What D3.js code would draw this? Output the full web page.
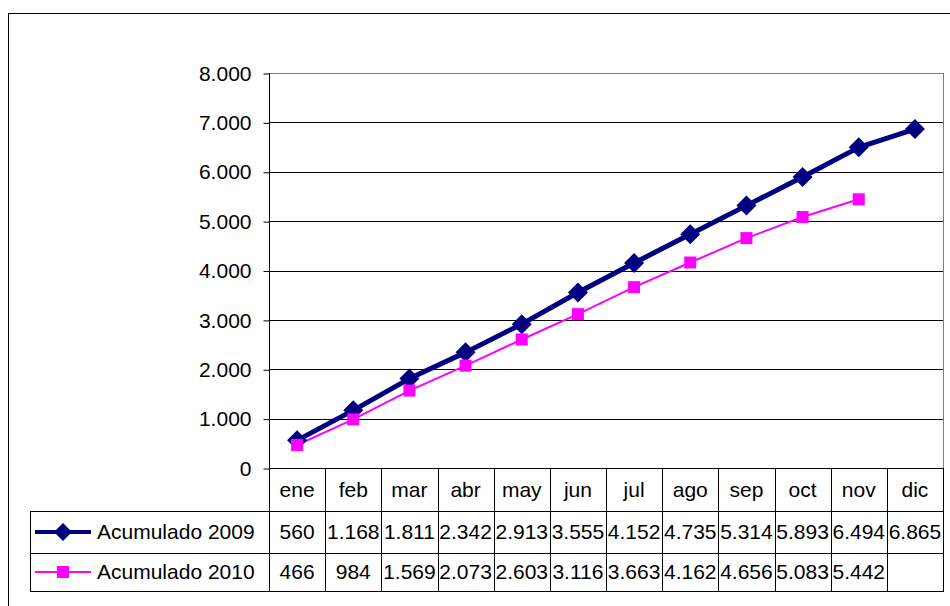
<!DOCTYPE html>
<html><head><meta charset="utf-8">
<script src="https://cdn.jsdelivr.net/npm/d3@7"></script>
<style>body{margin:0;background:#fff}svg{display:block}text{font-family:"Liberation Sans",Arial,sans-serif;fill:#000}</style>
</head><body>
<svg id="c" width="950" height="606"></svg>
<script>
const months = ["ene","feb","mar","abr","may","jun","jul","ago","sep","oct","nov","dic"];
const acum2009 = [560,1168,1811,2342,2913,3555,4152,4735,5314,5893,6494,6865];
const acum2010 = [466,984,1569,2073,2603,3116,3663,4162,4656,5083,5442,null];
const seriesNames = ["Acumulado 2009","Acumulado 2010"];
const yTicks = [0,1000,2000,3000,4000,5000,6000,7000,8000];

const svg = d3.select("#c");
const L = 269, R = 943, T = 73, B = 468;
const rowH = [43, 42, 38];
const tableLeft = 30;
const FS = 21;
const fmt = v => v == null ? "" : d3.format(",")(v).replace(/,/g, ".");

// outer frame
svg.append("rect").attr("x",8.5).attr("y",13.5).attr("width",960).attr("height",620)
  .attr("fill","none").attr("stroke","#000").attr("stroke-width",1);

const x = d3.scaleBand().domain(months).range([L,R]);
const y = d3.scaleLinear().domain([0,8000]).range([B,T]);

// gridlines
svg.append("g").selectAll("line").data(yTicks.filter(d=>d>0&&d<8000)).join("line")
  .attr("x1",L).attr("x2",R).attr("y1",d=>Math.round(y(d))+0.5).attr("y2",d=>Math.round(y(d))+0.5)
  .attr("stroke","#000").attr("stroke-width",1);
// plot border top/right gray
svg.append("line").attr("x1",L).attr("x2",R).attr("y1",T+0.5).attr("y2",T+0.5).attr("stroke","#808080");
svg.append("line").attr("x1",R+0.5).attr("x2",R+0.5).attr("y1",T).attr("y2",B).attr("stroke","#808080");

// y axis
const yAxis = d3.axisLeft(y).tickValues(yTicks).tickSize(6).tickPadding(12).tickFormat(fmt);
const ya = svg.append("g").attr("transform",`translate(${L+0.5},0.5)`).call(yAxis);
ya.select(".domain").remove();
ya.selectAll(".tick line").attr("stroke","#000");
ya.selectAll(".tick text").attr("font-size",FS).attr("font-family","Liberation Sans, Arial, sans-serif").attr("fill","#000");
svg.append("line").attr("x1",L+0.5).attr("x2",L+0.5).attr("y1",T).attr("y2",B).attr("stroke","#000");
svg.append("line").attr("x1",L).attr("x2",R).attr("y1",B+0.5).attr("y2",B+0.5).attr("stroke","#000");

// table
const r1 = B + rowH[0], r2 = r1 + rowH[1], r3 = r2 + rowH[2];
const tg = svg.append("g").attr("stroke","#000").attr("stroke-width",1);
months.forEach((m,i)=>{
  const xx = Math.round(x(m))+0.5;
  tg.append("line").attr("x1",xx).attr("x2",xx).attr("y1",B).attr("y2",r3);
});
tg.append("line").attr("x1",R+0.5).attr("x2",R+0.5).attr("y1",B).attr("y2",r3);
tg.append("line").attr("x1",tableLeft+0.5).attr("x2",tableLeft+0.5).attr("y1",r1).attr("y2",r3);
[r1,r2,r3].forEach(yy=>tg.append("line").attr("x1",tableLeft).attr("x2",R+1).attr("y1",yy+0.5).attr("y2",yy+0.5));

// header labels
svg.append("g").selectAll("text").data(months).join("text")
  .attr("x",d=>x(d)+x.bandwidth()/2).attr("y",B+rowH[0]/2+7).attr("text-anchor","middle")
  .attr("font-size",FS).text(d=>d);

const seriesData = [acum2009, acum2010];
const rowMid = [r1 + rowH[1]/2, r2 + rowH[2]/2];
seriesData.forEach((arr,si)=>{
  svg.append("g").selectAll("text").data(arr).join("text")
    .attr("x",(d,i)=>x(months[i])+x.bandwidth()/2).attr("y",rowMid[si]+7).attr("text-anchor","middle")
    .attr("font-size",FS).text(d=>fmt(d));
});

// legend keys
const colors = ["#000080","#FF00FF"];
const widths = [4,2];
seriesNames.forEach((n,si)=>{
  const cy = rowMid[si];
  svg.append("line").attr("x1",35).attr("x2",91).attr("y1",cy).attr("y2",cy).attr("stroke",colors[si]).attr("stroke-width",widths[si]);
  if(si===0){
    const d=9;
    svg.append("path").attr("d",`M63,${cy-d}L${63+d},${cy}L63,${cy+d}L${63-d},${cy}Z`).attr("fill",colors[0]);
  } else {
    svg.append("rect").attr("x",63-6).attr("y",cy-6).attr("width",12).attr("height",12).attr("fill",colors[1]);
  }
  svg.append("text").attr("x",97).attr("y",cy+7).attr("font-size",FS).text(n);
});

// lines
const cx = i => x(months[i]) + x.bandwidth()/2;
const line = d3.line().defined(d=>d!=null).x((d,i)=>cx(i)).y(d=>y(d));
svg.append("path").datum(acum2009).attr("d",line).attr("fill","none").attr("stroke",colors[0]).attr("stroke-width",5).attr("stroke-linejoin","round");
svg.append("path").datum(acum2010).attr("d",line).attr("fill","none").attr("stroke",colors[1]).attr("stroke-width",2);

// markers
const dia = 10;
svg.append("g").selectAll("path").data(acum2009).join("path")
  .attr("d",(d,i)=>{const X=cx(i),Y=y(d);return `M${X},${Y-dia}L${X+dia},${Y}L${X},${Y+dia}L${X-dia},${Y}Z`;})
  .attr("fill",colors[0]);
svg.append("g").selectAll("rect").data(acum2010.map((v,i)=>({v,i})).filter(d=>d.v!=null)).join("rect")
  .attr("x",d=>cx(d.i)-6).attr("y",d=>y(d.v)-6).attr("width",12).attr("height",12).attr("fill",colors[1]);
</script>
</body></html>
